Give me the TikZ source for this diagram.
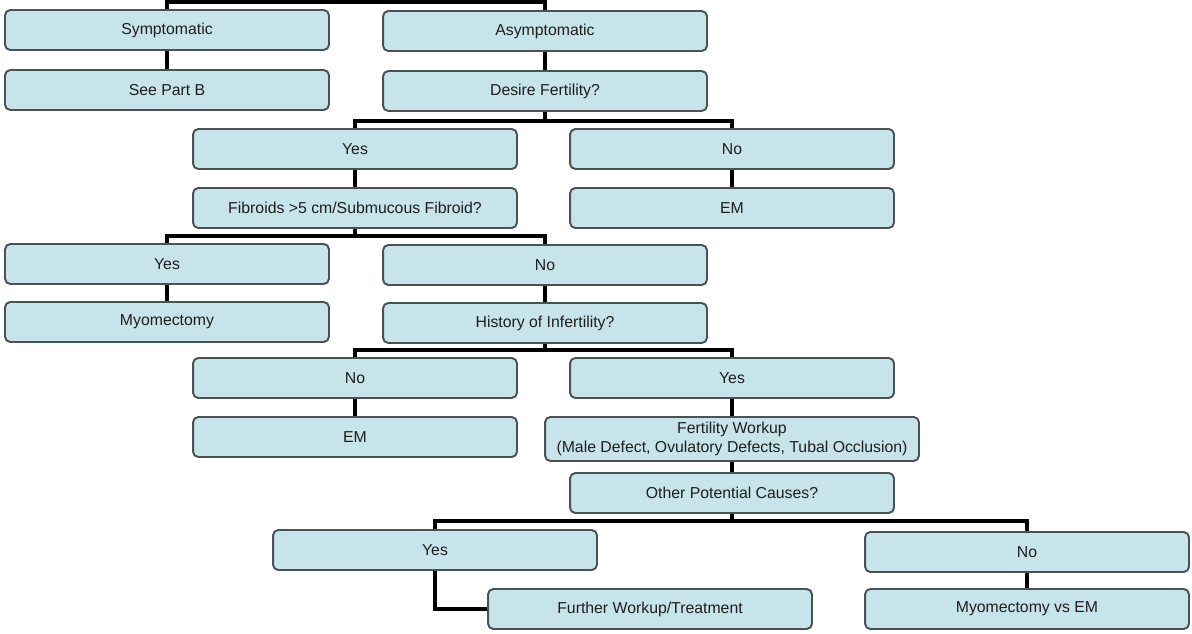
\documentclass[tikz,border=0pt]{standalone}
\usepackage{fontspec}
\setmainfont{Liberation Sans}
\definecolor{boxFill}{HTML}{C6E4EA}
\definecolor{boxLine}{HTML}{4A5253}
\definecolor{boxText}{HTML}{1E1E1E}
\begin{document}
\begin{tikzpicture}
[x=0.02cm,y=-0.02cm,
  lineDecorate/.style={-,line width=2.1pt,black},%
  nodeDecorate/.style={shape=rectangle,rounded corners=3pt,draw=boxLine,line width=1.1pt,
    fill=boxFill,text=boxText,minimum width=6.48cm,minimum height=0.8cm,inner sep=0pt,
    font=\fontsize{9}{10.8}\selectfont,align=center}]
\useasboundingbox (0,0) rectangle (1192,634);
%% boxes
\foreach \nodename/\x/\y/\txt in {
  sym/167/30/Symptomatic, asym/545/31/Asymptomatic,
  seeB/167/90/See Part B, desire/545/91/Desire Fertility?,
  yesA/355/149/Yes, noA/732/149/No,
  fib/355/208/{Fibroids >5 cm/Submucous Fibroid?}, emA/732/208/EM,
  yesB/167/264/Yes, noB/545/265/No,
  myo/167/322/Myomectomy, hist/545/323/History of Infertility?,
  noC/355/378/No, yesC/732/378/Yes,
  emB/355/437/EM,
  other/732/493/Other Potential Causes?,
  yesD/435/550/Yes, noD/1027/552/No,
  further/650/609/{Further Workup/Treatment}, myoem/1027/609/Myomectomy vs EM}
{
  \node (\nodename) at (\x,\y) [nodeDecorate] {\txt};
}
\node (fw) at (732,439) [nodeDecorate,minimum width=7.48cm,minimum height=0.88cm]
  {Fertility Workup\\(Male Defect, Ovulatory Defects, Tubal Occlusion)};
%% split points
\coordinate (rootSplit) at (356,2);
\coordinate (desireSplit) at (545,121);
\coordinate (fibSplit) at (355,236);
\coordinate (histSplit) at (545,350);
\coordinate (otherSplit) at (732,521);
%% connectors
\path
\foreach \startnode/\endnode in {
  sym/seeB, asym/desire, yesA/fib, noA/emA, yesB/myo, noB/hist,
  noC/emB, yesC/fw, fw/other, noD/myoem}
{
  (\startnode) edge[lineDecorate] (\endnode)
};
\draw[lineDecorate] (sym.north) |- (rootSplit) -| (asym.north);
\draw[lineDecorate] (desire.south) -- (desireSplit)
  (yesA.north) |- (desireSplit) -| (noA.north);
\draw[lineDecorate] (fib.south) -- (fibSplit)
  (yesB.north) |- (fibSplit) -| (noB.north);
\draw[lineDecorate] (hist.south) -- (histSplit)
  (noC.north) |- (histSplit) -| (yesC.north);
\draw[lineDecorate] (other.south) -- (otherSplit)
  (yesD.north) |- (otherSplit) -| (noD.north);
\draw[lineDecorate] (yesD.south) |- (further.west);
\end{tikzpicture}
\end{document}
